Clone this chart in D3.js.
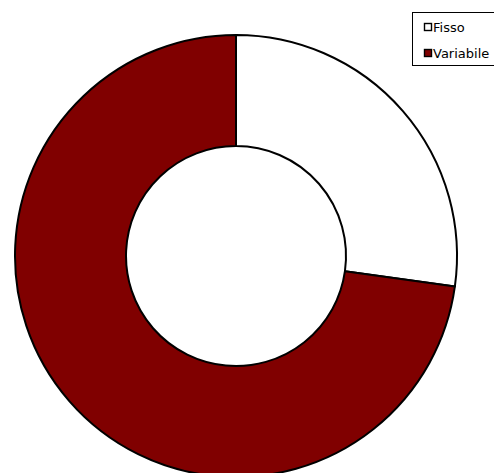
<!DOCTYPE html>
<html><head><meta charset="utf-8">
<script src="https://cdn.jsdelivr.net/npm/d3@7"></script>
<style>html,body{margin:0;padding:0;background:#fff;overflow:hidden}</style>
</head><body>
<svg id="c" width="494" height="473"></svg>
<script>
const categories = ["Fisso", "Variabile"];
const values = [27.2, 72.8];
const colors = ["#ffffff", "#800000"];

const svg = d3.select("#c");
const cx = 236, cy = 256, rOuter = 221, rInner = 110;
const pie = d3.pie().sort(null).value(d => d.v);
const arc = d3.arc().innerRadius(rInner).outerRadius(rOuter);
const data = categories.map((c, i) => ({c, v: values[i], col: colors[i]}));
const g = svg.append("g").attr("transform", `translate(${cx},${cy})`);
g.selectAll("path").data(pie(data)).join("path")
  .attr("d", arc).attr("fill", d => d.data.col)
  .attr("stroke", "#000").attr("stroke-width", 2).attr("stroke-linejoin", "round");

const lg = svg.append("g");
lg.append("rect").attr("x", 412.5).attr("y", 12.5).attr("width", 90).attr("height", 53)
  .attr("fill", "#fff").attr("stroke", "#000").attr("stroke-width", 1);
data.forEach((d, i) => {
  const y = 23 + i * 26;
  lg.append("rect").attr("x", 424.5).attr("y", y + 0.5).attr("width", 7).attr("height", 7)
    .attr("fill", d.col).attr("stroke", "#000").attr("stroke-width", 1.4);
  lg.append("text").attr("x", 433).attr("y", y + 9).text(d.c)
    .attr("font-family", "DejaVu Sans").attr("font-size", 13).attr("fill", "#000");
});
</script>
</body></html>
